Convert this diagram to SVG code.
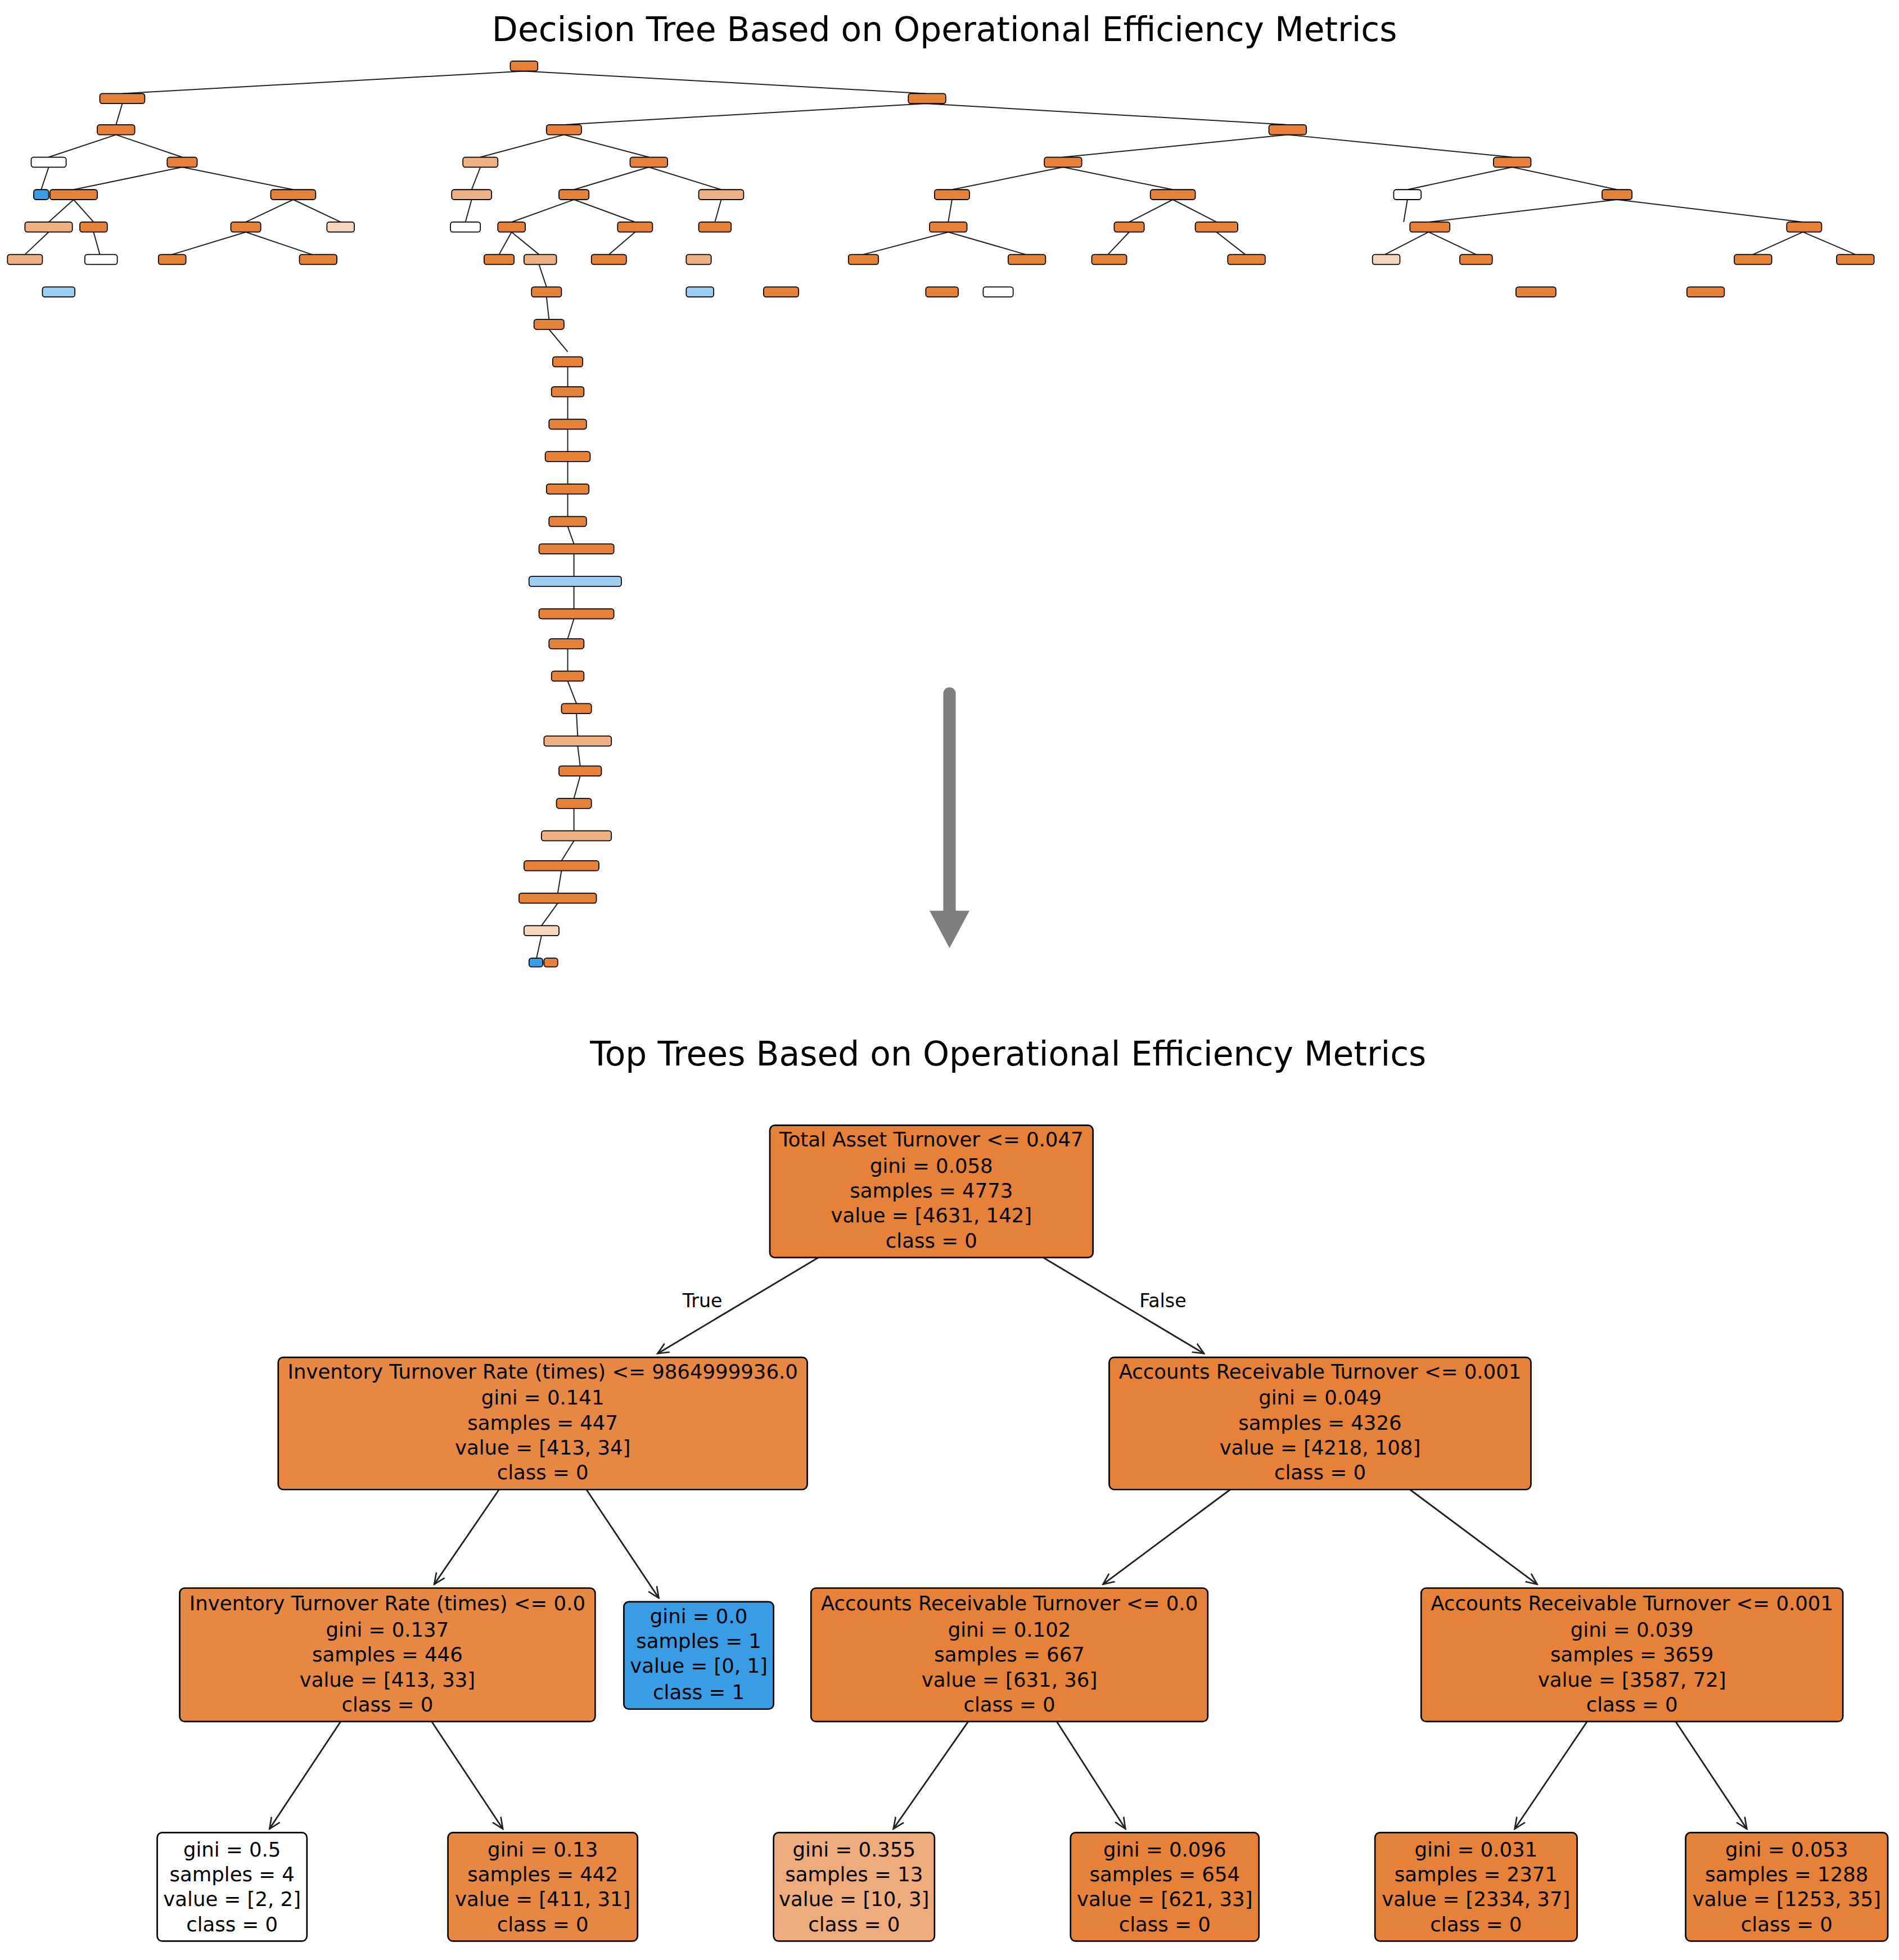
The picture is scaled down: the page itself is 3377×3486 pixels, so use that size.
<svg xmlns="http://www.w3.org/2000/svg" width="3377" height="3486" viewBox="0 0 3377 3486">
<style>
.t{font-family:"DejaVu Sans","Liberation Sans",sans-serif;fill:#000}
.title{font-size:27px;text-anchor:middle}
.nt{font-size:16px;text-anchor:middle}
.lbl{font-size:15px;text-anchor:middle}
.n{stroke:#000;stroke-width:1.2}
.s{stroke:#000;stroke-width:0.8}
.e{stroke:#222;stroke-width:1.3;fill:none}
.es{stroke:#222;stroke-width:0.9;fill:none}
.o{fill:#e58139}.o2{fill:#e68844}.o3{fill:#efb083}.o4{fill:#f6d5bd}.w{fill:#ffffff}.b{fill:#399de5}.lb{fill:#9ccef2}
</style>
<defs>
<marker id="ar" markerWidth="10" markerHeight="10" refX="9" refY="5" orient="auto" markerUnits="userSpaceOnUse"><path d="M0,1 L9,5 L0,9" fill="none" stroke="#222" stroke-width="1.2"/></marker>
</defs>
<rect width="3377" height="3486" fill="#fff"/>
<g transform="scale(2.2188)">
<text class="t title" x="757" y="33">Decision Tree Based on Operational Efficiency Metrics</text>
<text class="t title" x="808" y="854">Top Trees Based on Operational Efficiency Metrics</text>

<g id="overview-connectors" class="es">
<path d="M420,57 L98,75 M420,57 L742,75 M98,83 L93,100 M742,83 L452,100 M742,83 L1032,100 M93,108 L39,126 M93,108 L146,126 M452,108 L385,126 M452,108 L520,126 M1032,108 L852,126 M1032,108 L1212,126 M39,134 L33,152 M146,134 L59,152 M146,134 L235,152 M385,134 L378,152 M520,134 L460,152 M520,134 L578,152 M852,134 L763,152 M852,134 L940,152 M1212,134 L1128,152 M1212,134 L1296,152 M59,160 L39,178 M59,160 L75,178 M235,160 L197,178 M235,160 L273,178 M378,160 L373,178 M460,160 L410,178 M460,160 L509,178 M578,160 L573,178 M763,160 L760,178 M940,160 L905,178 M940,160 L975,178 M1128,160 L1125,178 M1296,160 L1145,178 M1296,160 L1445,178 M197,186 L138,204 M197,186 L250,204 M760,186 L692,204 M760,186 L822,204 M1445,186 L1405,204 M1445,186 L1487,204 M1145,186 L1110,204 M1145,186 L1183,204 M975,186 L998,204 M905,186 L888,204 M509,186 L488,204 M410,186 L400,204 M410,186 L432,204 M432,212 L438,230 M438,238 L440,256 M440,264 L455,282 M39,186 L20,204 M75,186 L80,204"/>
<path d="M455,294 L455,310 M455,318 L455,336 M455,344 L455,362 M455,370 L455,388 M455,396 L455,414 M455,422 L460,436 M460,444 L460,462 M460,470 L460,488 M460,496 L455,512 M455,520 L455,538 M455,546 L462,564 M462,572 L463,590 M463,598 L465,614 M465,622 L460,640 M460,648 L460,666 M460,674 L450,690 M450,698 L447,716 M447,724 L434,742 M434,750 L430,768"/>
</g>
<g id="overview-nodes">
<rect class="s o" x="409" y="49" width="22" height="8" rx="2"/>
<rect class="s o" x="80" y="75" width="36" height="8" rx="2"/><rect class="s o" x="728" y="75" width="30" height="8" rx="2"/>
<rect class="s o" x="78" y="100" width="30" height="8" rx="2"/><rect class="s o" x="438" y="100" width="28" height="8" rx="2"/><rect class="s o" x="1017" y="100" width="30" height="8" rx="2"/>
<rect class="s w" x="25" y="126" width="28" height="8" rx="2"/><rect class="s o" x="134" y="126" width="24" height="8" rx="2"/><rect class="s o3" x="371" y="126" width="28" height="8" rx="2"/><rect class="s o" x="505" y="126" width="30" height="8" rx="2"/><rect class="s o" x="837" y="126" width="30" height="8" rx="2"/><rect class="s o" x="1197" y="126" width="30" height="8" rx="2"/>
<rect class="s b" x="27" y="152" width="12" height="8" rx="2"/><rect class="s o" x="40" y="152" width="38" height="8" rx="2"/><rect class="s o" x="217" y="152" width="36" height="8" rx="2"/><rect class="s o3" x="362" y="152" width="32" height="8" rx="2"/><rect class="s o" x="448" y="152" width="24" height="8" rx="2"/><rect class="s o3" x="560" y="152" width="36" height="8" rx="2"/><rect class="s o" x="749" y="152" width="28" height="8" rx="2"/><rect class="s o" x="922" y="152" width="36" height="8" rx="2"/><rect class="s w" x="1117" y="152" width="22" height="8" rx="2"/><rect class="s o" x="1284" y="152" width="24" height="8" rx="2"/>
<rect class="s o3" x="20" y="178" width="38" height="8" rx="2"/><rect class="s o" x="64" y="178" width="22" height="8" rx="2"/><rect class="s o" x="185" y="178" width="24" height="8" rx="2"/><rect class="s o4" x="262" y="178" width="22" height="8" rx="2"/><rect class="s w" x="361" y="178" width="24" height="8" rx="2"/><rect class="s o" x="399" y="178" width="22" height="8" rx="2"/><rect class="s o" x="495" y="178" width="28" height="8" rx="2"/><rect class="s o" x="560" y="178" width="26" height="8" rx="2"/><rect class="s o" x="745" y="178" width="30" height="8" rx="2"/><rect class="s o" x="893" y="178" width="24" height="8" rx="2"/><rect class="s o" x="958" y="178" width="34" height="8" rx="2"/><rect class="s o" x="1130" y="178" width="32" height="8" rx="2"/><rect class="s o" x="1432" y="178" width="28" height="8" rx="2"/>
<rect class="s o3" x="6" y="204" width="28" height="8" rx="2"/><rect class="s w" x="68" y="204" width="26" height="8" rx="2"/><rect class="s o" x="127" y="204" width="22" height="8" rx="2"/><rect class="s o" x="240" y="204" width="30" height="8" rx="2"/><rect class="s o" x="388" y="204" width="24" height="8" rx="2"/><rect class="s o3" x="420" y="204" width="26" height="8" rx="2"/><rect class="s o" x="474" y="204" width="28" height="8" rx="2"/><rect class="s o" x="680" y="204" width="24" height="8" rx="2"/><rect class="s o" x="808" y="204" width="30" height="8" rx="2"/><rect class="s o" x="875" y="204" width="28" height="8" rx="2"/><rect class="s o" x="984" y="204" width="30" height="8" rx="2"/><rect class="s o4" x="1100" y="204" width="22" height="8" rx="2"/><rect class="s o" x="1170" y="204" width="26" height="8" rx="2"/><rect class="s o" x="1390" y="204" width="30" height="8" rx="2"/><rect class="s o" x="1472" y="204" width="30" height="8" rx="2"/>
<rect class="s lb" x="34" y="230" width="26" height="8" rx="2"/><rect class="s o" x="426" y="230" width="24" height="8" rx="2"/><rect class="s o3" x="550" y="204" width="20" height="8" rx="2"/><rect class="s lb" x="550" y="230" width="22" height="8" rx="2"/><rect class="s o" x="612" y="230" width="28" height="8" rx="2"/><rect class="s o" x="742" y="230" width="26" height="8" rx="2"/><rect class="s w" x="788" y="230" width="24" height="8" rx="2"/><rect class="s o" x="1215" y="230" width="32" height="8" rx="2"/><rect class="s o" x="1352" y="230" width="30" height="8" rx="2"/>
<rect class="s o" x="428" y="256" width="24" height="8" rx="2"/>
<rect class="s o" x="443" y="286" width="24" height="8" rx="2"/><rect class="s o" x="442" y="310" width="26" height="8" rx="2"/><rect class="s o" x="440" y="336" width="30" height="8" rx="2"/><rect class="s o" x="437" y="362" width="36" height="8" rx="2"/><rect class="s o" x="438" y="388" width="34" height="8" rx="2"/><rect class="s o" x="440" y="414" width="30" height="8" rx="2"/><rect class="s o" x="432" y="436" width="60" height="8" rx="2"/><rect class="s lb" x="424" y="462" width="74" height="8" rx="2"/><rect class="s o" x="432" y="488" width="60" height="8" rx="2"/><rect class="s o" x="440" y="512" width="28" height="8" rx="2"/><rect class="s o" x="442" y="538" width="26" height="8" rx="2"/><rect class="s o" x="450" y="564" width="24" height="8" rx="2"/><rect class="s o3" x="436" y="590" width="54" height="8" rx="2"/><rect class="s o" x="448" y="614" width="34" height="8" rx="2"/><rect class="s o" x="446" y="640" width="28" height="8" rx="2"/><rect class="s o3" x="434" y="666" width="56" height="8" rx="2"/><rect class="s o" x="420" y="690" width="60" height="8" rx="2"/><rect class="s o" x="416" y="716" width="62" height="8" rx="2"/><rect class="s o4" x="420" y="742" width="28" height="8" rx="2"/><rect class="s b" x="424" y="768" width="11" height="7" rx="2"/><rect class="s o" x="436" y="768" width="11" height="7" rx="2"/>
</g>

<g id="big-arrow">
<line x1="761" y1="556" x2="761" y2="732" stroke="#7f7f7f" stroke-width="10" stroke-linecap="round"/>
<polygon points="745,730 777,730 761,760" fill="#7f7f7f"/>
</g>

<g id="connectors" class="e">
<path d="M656,1008 L527,1085" marker-end="url(#ar)"/>
<path d="M836,1008 L965,1085" marker-end="url(#ar)"/>
<path d="M400,1194 L348,1270" marker-end="url(#ar)"/>
<path d="M470,1194 L528,1281" marker-end="url(#ar)"/>
<path d="M986,1194 L884,1270" marker-end="url(#ar)"/>
<path d="M1130,1194 L1232,1270" marker-end="url(#ar)"/>
<path d="M273,1380 L216,1466" marker-end="url(#ar)"/>
<path d="M346,1380 L403,1466" marker-end="url(#ar)"/>
<path d="M776,1380 L716,1466" marker-end="url(#ar)"/>
<path d="M847,1380 L902,1466" marker-end="url(#ar)"/>
<path d="M1272,1380 L1214,1466" marker-end="url(#ar)"/>
<path d="M1343,1380 L1400,1466" marker-end="url(#ar)"/>
<text class="t lbl" x="563" y="1048" stroke="none">True</text>
<text class="t lbl" x="932" y="1048" stroke="none">False</text>
</g>

<g id="root"><rect class="n o" x="617" y="902" width="259" height="106" rx="4"/>
<text class="t nt" x="746.5" y="919">Total Asset Turnover &lt;= 0.047</text><text class="t nt" x="746.5" y="940">gini = 0.058</text><text class="t nt" x="746.5" y="960">samples = 4773</text><text class="t nt" x="746.5" y="980">value = [4631, 142]</text><text class="t nt" x="746.5" y="1000">class = 0</text></g>

<g id="n1"><rect class="n o2" x="223" y="1088" width="424" height="106" rx="4"/>
<text class="t nt" x="435" y="1105">Inventory Turnover Rate (times) &lt;= 9864999936.0</text><text class="t nt" x="435" y="1126">gini = 0.141</text><text class="t nt" x="435" y="1146">samples = 447</text><text class="t nt" x="435" y="1166">value = [413, 34]</text><text class="t nt" x="435" y="1186">class = 0</text></g>

<g id="n2"><rect class="n o" x="889" y="1088" width="338" height="106" rx="4"/>
<text class="t nt" x="1058" y="1105">Accounts Receivable Turnover &lt;= 0.001</text><text class="t nt" x="1058" y="1126">gini = 0.049</text><text class="t nt" x="1058" y="1146">samples = 4326</text><text class="t nt" x="1058" y="1166">value = [4218, 108]</text><text class="t nt" x="1058" y="1186">class = 0</text></g>

<g id="n3"><rect class="n o2" x="144" y="1273" width="333" height="107" rx="4"/>
<text class="t nt" x="310.5" y="1291">Inventory Turnover Rate (times) &lt;= 0.0</text><text class="t nt" x="310.5" y="1312">gini = 0.137</text><text class="t nt" x="310.5" y="1332">samples = 446</text><text class="t nt" x="310.5" y="1352">value = [413, 33]</text><text class="t nt" x="310.5" y="1372">class = 0</text></g>

<g id="n4"><rect class="n b" x="500" y="1284" width="120" height="86" rx="4"/>
<text class="t nt" x="560" y="1301">gini = 0.0</text><text class="t nt" x="560" y="1321">samples = 1</text><text class="t nt" x="560" y="1341">value = [0, 1]</text><text class="t nt" x="560" y="1362">class = 1</text></g>

<g id="n5"><rect class="n o" x="650" y="1273" width="318" height="107" rx="4"/>
<text class="t nt" x="809" y="1291">Accounts Receivable Turnover &lt;= 0.0</text><text class="t nt" x="809" y="1312">gini = 0.102</text><text class="t nt" x="809" y="1332">samples = 667</text><text class="t nt" x="809" y="1352">value = [631, 36]</text><text class="t nt" x="809" y="1372">class = 0</text></g>

<g id="n6"><rect class="n o" x="1139" y="1273" width="338" height="107" rx="4"/>
<text class="t nt" x="1308" y="1291">Accounts Receivable Turnover &lt;= 0.001</text><text class="t nt" x="1308" y="1312">gini = 0.039</text><text class="t nt" x="1308" y="1332">samples = 3659</text><text class="t nt" x="1308" y="1352">value = [3587, 72]</text><text class="t nt" x="1308" y="1372">class = 0</text></g>

<g id="n7"><rect class="n w" x="126" y="1469" width="120" height="87" rx="4"/>
<text class="t nt" x="186" y="1488">gini = 0.5</text><text class="t nt" x="186" y="1508">samples = 4</text><text class="t nt" x="186" y="1528">value = [2, 2]</text><text class="t nt" x="186" y="1548">class = 0</text></g>

<g id="n8"><rect class="n o2" x="359" y="1469" width="152" height="87" rx="4"/>
<text class="t nt" x="435" y="1488">gini = 0.13</text><text class="t nt" x="435" y="1508">samples = 442</text><text class="t nt" x="435" y="1528">value = [411, 31]</text><text class="t nt" x="435" y="1548">class = 0</text></g>

<g id="n9"><rect class="n" fill="#eeab7b" x="620" y="1469" width="129" height="87" rx="4"/>
<text class="t nt" x="684.5" y="1488">gini = 0.355</text><text class="t nt" x="684.5" y="1508">samples = 13</text><text class="t nt" x="684.5" y="1528">value = [10, 3]</text><text class="t nt" x="684.5" y="1548">class = 0</text></g>

<g id="n10"><rect class="n o" x="858" y="1469" width="151" height="87" rx="4"/>
<text class="t nt" x="933.5" y="1488">gini = 0.096</text><text class="t nt" x="933.5" y="1508">samples = 654</text><text class="t nt" x="933.5" y="1528">value = [621, 33]</text><text class="t nt" x="933.5" y="1548">class = 0</text></g>

<g id="n11"><rect class="n o" x="1102" y="1469" width="162" height="87" rx="4"/>
<text class="t nt" x="1183" y="1488">gini = 0.031</text><text class="t nt" x="1183" y="1508">samples = 2371</text><text class="t nt" x="1183" y="1528">value = [2334, 37]</text><text class="t nt" x="1183" y="1548">class = 0</text></g>

<g id="n12"><rect class="n o" x="1351" y="1469" width="162" height="87" rx="4"/>
<text class="t nt" x="1432" y="1488">gini = 0.053</text><text class="t nt" x="1432" y="1508">samples = 1288</text><text class="t nt" x="1432" y="1548" dy="-20">value = [1253, 35]</text><text class="t nt" x="1432" y="1548">class = 0</text></g>
</g>
</svg>
